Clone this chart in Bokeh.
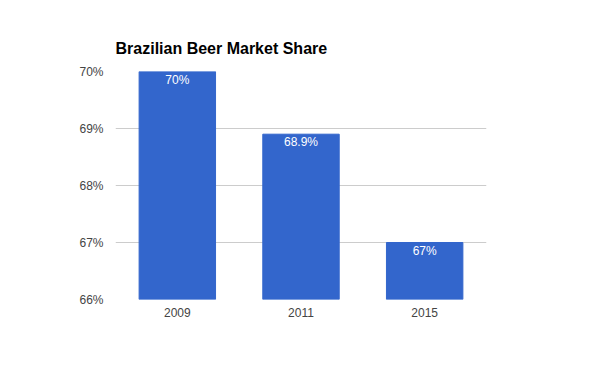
from bokeh.plotting import figure
from bokeh.models import ColumnDataSource, FixedTicker, Range1d, LabelSet, Title
from bokeh.core.properties import value
from bokeh.embed import file_html
from bokeh.resources import INLINE

years = ["2009", "2011", "2015"]
shares = [70.0, 68.9, 67.0]
share_labels = ["70%", "68.9%", "67%"]
y_ticks = [66, 67, 68, 69, 70]
y_tick_labels = ["66%", "67%", "68%", "69%", "70%"]

src = ColumnDataSource(dict(x=years, top=shares, lab=share_labels))

p = figure(x_range=years, y_range=Range1d(66, 70), width=584, height=355,
           output_backend="svg", toolbar_location=None,
           min_border_left=115, min_border_right=98, min_border_top=71, min_border_bottom=56)

p.vbar(x="x", top="top", bottom=66, width=0.618, source=src, color="#3366CC")
p.add_layout(LabelSet(x="x", y="top", text="lab", source=src, text_color="white",
                      text_font=value("Arial"), text_font_size="12px", text_align="center",
                      text_baseline="middle", y_offset=-8))

t = Title(text="Brazilian Beer Market Share", text_font="Arial", text_font_size="16px",
          text_font_style="bold", text_color="black", align="left", offset=0, standoff=30)
p.add_layout(t, "above")

p.yaxis.ticker = FixedTicker(ticks=y_ticks)
p.yaxis.major_label_overrides = {t_: l for t_, l in zip(y_ticks, y_tick_labels)}
for ax in (p.xaxis, p.yaxis):
    ax.axis_line_color = None
    ax.major_tick_line_color = None
    ax.minor_tick_line_color = None
    ax.major_label_text_font = "Arial"
    ax.major_label_text_font_size = "12px"
    ax.major_label_text_color = "#444444"
p.yaxis.major_label_standoff = 6
p.xaxis.major_label_standoff = 2
p.xgrid.grid_line_color = None
p.ygrid.grid_line_color = "#cccccc"
p.outline_line_color = None
p.x_range.range_padding = 0

open("out.html", "w").write(file_html(p, INLINE))
